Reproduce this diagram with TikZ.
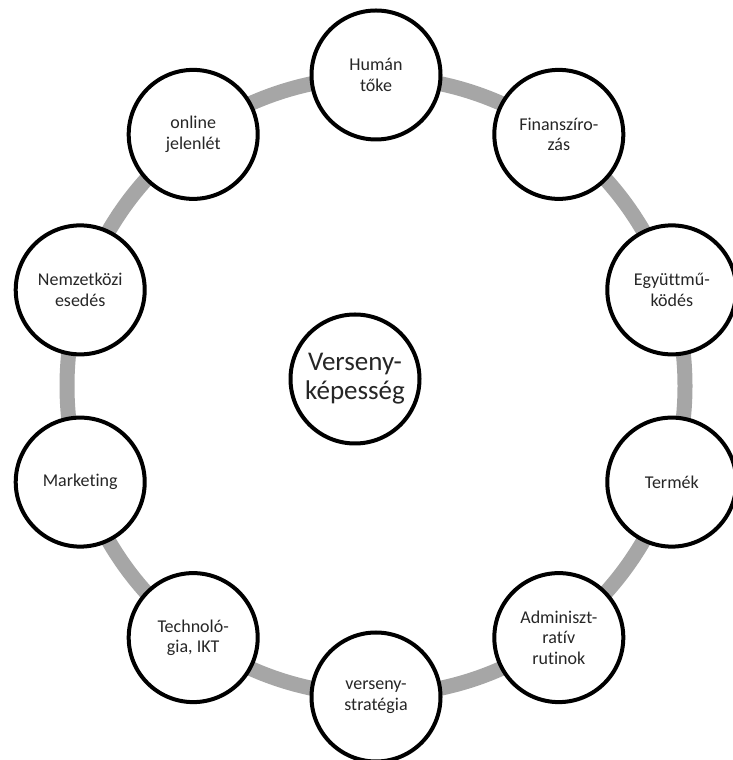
\documentclass[tikz,border=0pt]{standalone}
\usepackage{fontspec}
\setmainfont[Ligatures=NoCommon]{Carlito}
\usetikzlibrary{calc}
\begin{document}
\begin{tikzpicture}[x=1pt,y=1pt,
  topic/.style={circle,draw=black,line width=4pt,fill=white,minimum size=129pt,inner sep=0pt,align=center,font=\fontsize{18}{20.5}\selectfont,text=black!85},
  hub/.style={topic,font=\fontsize{27}{29}\selectfont},
  ring/.style={draw=black!35,line width=15pt}]
\useasboundingbox (0,0) rectangle (733,760);
\coordinate (c) at (376,374);
\draw[ring] (c) circle[radius=309];
\node[topic] (n1) at ($(c)+(90:311)$) {Humán\\tőke};
\node[topic] (n2) at ($(c)+(54:311)$) {Finanszíro-\\zás};
\node[topic] (n3) at ($(c)+(18:311)$) {Együttmű-\\ködés};
\node[topic] (n4) at ($(c)+(-18:311)$) {Termék};
\node[topic] (n5) at ($(c)+(-54:311)$) {Adminiszt-\\ratív\\rutinok};
\node[topic] (n6) at ($(c)+(-90:311)$) {verseny-\\stratégia};
\node[topic] (n7) at ($(c)+(-126:311)$) {Technoló-\\gia, IKT};
\node[topic] (n8) at ($(c)+(-162:311)$) {Marketing};
\node[topic] (n9) at ($(c)+(162:311)$) {Nemzetközi\\esedés};
\node[topic] (n10) at ($(c)+(126:311)$) {online\\jelenlét};
\node[hub] (hub) at (355,381) {Verseny-\\képesség};
\end{tikzpicture}
\end{document}
